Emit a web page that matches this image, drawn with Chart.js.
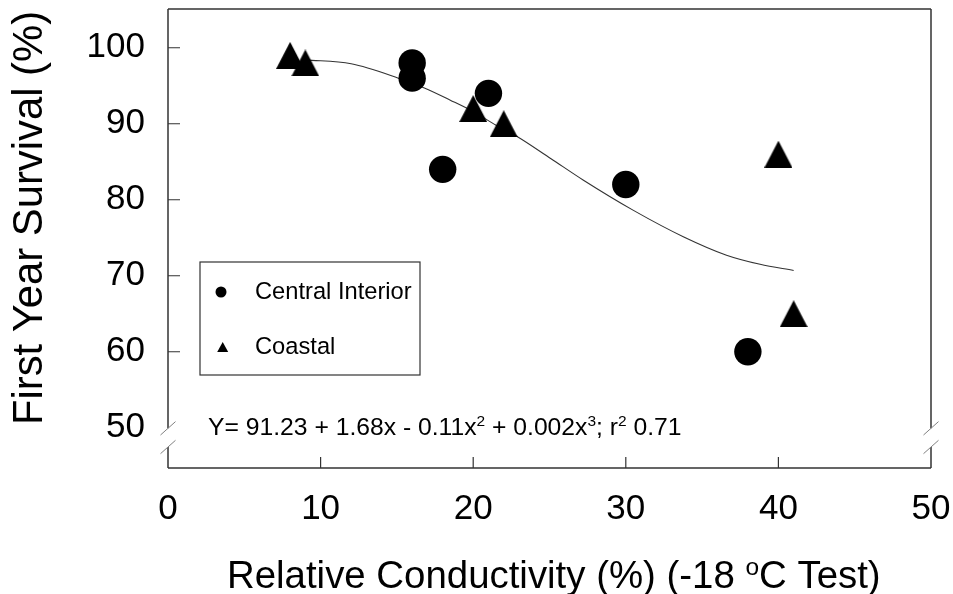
<!DOCTYPE html>
<html>
<head>
<meta charset="utf-8">
<script src="https://cdn.jsdelivr.net/npm/chart.js@4.4.0/dist/chart.umd.min.js"></script>
<style>
  html, body { margin: 0; padding: 0; background: #fff; }
  #wrap { width: 953px; height: 594px; }
</style>
</head>
<body>
<div id="wrap"><canvas id="chart" width="953" height="594"></canvas></div>
<script>
// --- data ---
const seriesNames = ['Central Interior', 'Coastal'];
const interiorX = [16, 16, 18, 21, 30, 38];
const interiorY = [98, 96, 84, 94, 82, 60];
const coastalX = [8, 9, 20, 22, 40, 41];
const coastalY = [99, 98, 92, 90, 86, 65];
// fitted curve
const fitX = [9, 12, 15.1, 16.8, 18.5, 20, 21.5, 22.9, 25.1, 27.2, 30.5, 33.8, 36.6, 38.8, 41];
const fitY = [98.4, 97.9, 96.0, 94.7, 93.1, 91.6, 89.8, 88.3, 85.4, 82.6, 78.6, 75.1, 72.7, 71.5, 70.7];
const xTicks = [0, 10, 20, 30, 40, 50];
const yTicks = [50, 60, 70, 80, 90, 100];

const FONT = "'Liberation Sans', Arial, sans-serif";
const INK = '#000';
const FRAME = '#333';

// triangle marker as a small canvas so it is centred on its box
function triangleImage(w, h) {
    const c = document.createElement('canvas');
    c.width = w; c.height = h;
    const g = c.getContext('2d');
    g.fillStyle = INK;
    g.beginPath();
    g.moveTo(0, h); g.lineTo(w / 2, 0); g.lineTo(w, h);
    g.closePath();
    g.fill();
    return c;
}
const triMarker = triangleImage(28, 27);

const toPoints = (xs, ys) => xs.map((x, i) => ({ x: x, y: ys[i] }));

// frame, inward ticks, axis breaks, legend box, equation and axis titles
const decorations = {
    id: 'decorations',
    afterDraw(chart) {
        const ctx = chart.ctx;
        const a = chart.chartArea;
        const xs = chart.scales.x, ys = chart.scales.y;
        const b1 = 428.3, b2 = 447;

        ctx.save();
        ctx.strokeStyle = FRAME;
        ctx.lineWidth = 1.5;
        ctx.beginPath();
        ctx.moveTo(a.left, a.top); ctx.lineTo(a.right, a.top);
        ctx.moveTo(a.left, a.bottom); ctx.lineTo(a.right, a.bottom);
        [a.left, a.right].forEach(x => {
            ctx.moveTo(x, a.top); ctx.lineTo(x, b1);
            ctx.moveTo(x, b2); ctx.lineTo(x, a.bottom);
        });
        ctx.stroke();

        // inward ticks
        ctx.lineWidth = 1.2;
        ctx.beginPath();
        yTicks.forEach(v => {
            if (v === 50) return;
            const py = ys.getPixelForValue(v);
            ctx.moveTo(a.left, py); ctx.lineTo(a.left + 12, py);
        });
        xTicks.forEach(v => {
            if (v === 0 || v === 50) return;
            const px = xs.getPixelForValue(v);
            ctx.moveTo(px, a.bottom); ctx.lineTo(px, a.bottom - 11);
        });
        ctx.stroke();

        // break marks
        ctx.strokeStyle = '#808080';
        ctx.lineWidth = 1;
        ctx.beginPath();
        [a.left, a.right].forEach(x => {
            [b1, b2].forEach(y => {
                ctx.moveTo(x - 7.5, y + 6.7); ctx.lineTo(x + 7.5, y - 6.7);
            });
        });
        ctx.stroke();

        // legend
        ctx.strokeStyle = FRAME;
        ctx.lineWidth = 1.2;
        ctx.strokeRect(200, 262, 220, 113);
        ctx.fillStyle = INK;
        ctx.beginPath();
        ctx.arc(221, 292, 5.5, 0, Math.PI * 2);
        ctx.fill();
        ctx.beginPath();
        ctx.moveTo(217.2, 352); ctx.lineTo(222.7, 342); ctx.lineTo(228.2, 352);
        ctx.closePath();
        ctx.fill();
        ctx.font = '23.7px ' + FONT;
        ctx.textAlign = 'left';
        ctx.textBaseline = 'middle';
        ctx.fillText(seriesNames[0], 255, 292);
        ctx.fillText(seriesNames[1], 255, 347);

        // equation with superscripts
        const parts = [
            ['Y= 91.23 + 1.68x - 0.11x', 0], ['2', 1], [' + 0.002x', 0], ['3', 1],
            ['; r', 0], ['2', 1], [' 0.71', 0]
        ];
        let ex = 208;
        ctx.textBaseline = 'alphabetic';
        parts.forEach(([t, sup]) => {
            ctx.font = (sup ? '15.5px ' : '24.7px ') + FONT;
            ctx.fillText(t, ex, sup ? 426 : 435);
            ex += ctx.measureText(t).width;
        });

        // x title
        const xParts = [['Relative Conductivity (%) (-18 ', 0], ['o', 1], ['C Test)', 0]];
        let tx = 227;
        xParts.forEach(([t, sup]) => {
            ctx.font = (sup ? '24.5px ' : '38.4px ') + FONT;
            ctx.fillText(t, tx, sup ? 575 : 588);
            tx += ctx.measureText(t).width;
        });

        // y title
        ctx.translate(42, 218);
        ctx.rotate(-Math.PI / 2);
        ctx.textAlign = 'center';
        ctx.font = '41.8px ' + FONT;
        ctx.fillText('First Year Survival (%)', 0, 0);
        ctx.restore();
    }
};

new Chart(document.getElementById('chart'), {
    type: 'scatter',
    data: {
        datasets: [
            {
                label: seriesNames[0],
                data: toPoints(interiorX, interiorY),
                pointStyle: 'circle',
                pointRadius: 13.7,
                backgroundColor: INK,
                borderColor: INK,
                borderWidth: 0
            },
            {
                label: seriesNames[1],
                data: toPoints(coastalX, coastalY),
                pointStyle: triMarker,
                pointRadius: 14,
                backgroundColor: INK,
                borderColor: INK
            },
            {
                type: 'line',
                label: 'fit',
                data: toPoints(fitX, fitY),
                borderColor: '#333',
                borderWidth: 1.1,
                pointRadius: 0,
                fill: false,
                tension: 0.4,
                cubicInterpolationMode: 'monotone',
                order: 5
            }
        ]
    },
    options: {
        responsive: false,
        animation: false,
        layout: { autoPadding: false, padding: { top: 9, right: 22, left: 0, bottom: 0 } },
        plugins: { legend: { display: false }, tooltip: { enabled: false } },
        scales: {
            x: {
                type: 'linear',
                min: 0, max: 50,
                afterBuildTicks: s => { s.ticks = xTicks.map(v => ({ value: v })); },
                afterFit: s => { s.height = 126; s.paddingLeft = 0; s.paddingRight = 0; },
                grid: { display: false, drawTicks: false },
                border: { display: false },
                ticks: { color: INK, padding: 20, font: { family: FONT, size: 35 } }
            },
            y: {
                type: 'linear',
                min: 44.7, max: 105.1,
                afterBuildTicks: s => { s.ticks = yTicks.map(v => ({ value: v })); },
                afterFit: s => { s.width = 168; s.paddingTop = 0; s.paddingBottom = 0; },
                grid: { display: false, drawTicks: false },
                border: { display: false },
                ticks: { color: INK, padding: 23, font: { family: FONT, size: 35 } }
            }
        }
    },
    plugins: [decorations]
});
</script>
</body>
</html>
